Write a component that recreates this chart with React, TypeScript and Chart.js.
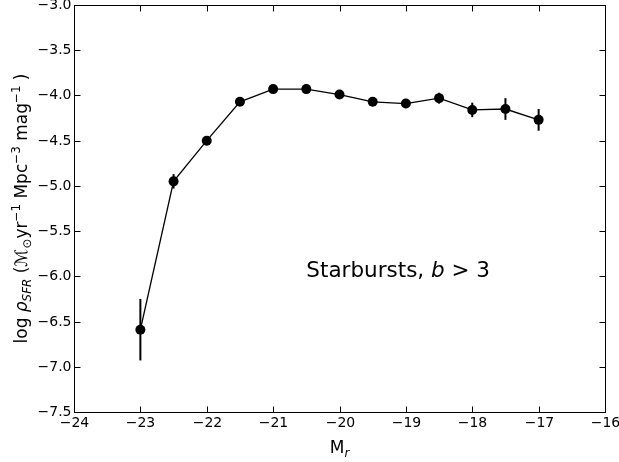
import React, { useEffect, useRef } from "react";
import { Chart, registerables } from "chart.js";

Chart.register(...registerables);

const magnitudes = [-23, -22.5, -22, -21.5, -21, -20.5, -20, -19.5, -19, -18.5, -18, -17.5, -17];
const logRho = [-6.59, -4.95, -4.5, -4.07, -3.93, -3.93, -3.99, -4.07, -4.09, -4.03, -4.16, -4.15, -4.27];
const errors = [0.34, 0.08, 0.05, 0.03, 0.02, 0.02, 0.03, 0.03, 0.05, 0.06, 0.08, 0.12, 0.12];
const xRange = [-24, -16];
const yRange = [-7.5, -3.0];
const annotationText = "Starbursts, ";

const FONT = '"DejaVu Sans"';

type Seg = { t: string; it?: boolean; sub?: boolean; sup?: boolean; font?: string };

function segFont(s: Seg, size: number) {
  const sz = s.sub || s.sup ? size * 0.7 : size;
  return `${s.it ? "italic " : ""}${sz}px ${s.font || FONT}`;
}

function drawRich(ctx: CanvasRenderingContext2D, segs: Seg[], x: number, y: number, size: number, align: "center" | "left") {
  ctx.textBaseline = "alphabetic";
  ctx.textAlign = "left";
  let total = 0;
  const widths = segs.map((s) => {
    ctx.font = segFont(s, size);
    const w = ctx.measureText(s.t).width;
    total += w;
    return w;
  });
  let cx = align === "center" ? x - total / 2 : x;
  segs.forEach((s, i) => {
    ctx.font = segFont(s, size);
    const dy = s.sub ? size * 0.22 : s.sup ? -size * 0.42 : 0;
    ctx.fillText(s.t, cx, y + dy);
    cx += widths[i];
  });
}

const minus = (s: string) => s.replace("-", "\u2212");

const decorPlugin = {
  id: "decor",
  beforeDatasetsDraw(chart: any) {
    const ctx: CanvasRenderingContext2D = chart.ctx;
    const xs = chart.scales.x;
    const ys = chart.scales.y;
    ctx.save();
    ctx.strokeStyle = "#000";
    ctx.lineWidth = 2;
    magnitudes.forEach((m, i) => {
      const px = xs.getPixelForValue(m);
      const y1 = ys.getPixelForValue(logRho[i] - errors[i]);
      const y2 = ys.getPixelForValue(logRho[i] + errors[i]);
      ctx.beginPath();
      ctx.moveTo(px, y1);
      ctx.lineTo(px, y2);
      ctx.stroke();
    });
    ctx.restore();
  },
  afterDraw(chart: any) {
    const ctx: CanvasRenderingContext2D = chart.ctx;
    const a = chart.chartArea;
    const xs = chart.scales.x;
    const ys = chart.scales.y;
    ctx.save();
    ctx.strokeStyle = "#000";
    ctx.lineWidth = 1;
    const L = Math.round(a.left) + 0.5;
    const R = Math.round(a.right) + 0.5;
    const T = Math.round(a.top) + 0.5;
    const B = Math.round(a.bottom) + 0.5;
    ctx.strokeRect(L, T, R - L, B - T);
    const tl = 6;
    ctx.fillStyle = "#000";
    const tickFont = `14px ${FONT}`;
    xs.ticks.forEach((t: any) => {
      const px = Math.round(xs.getPixelForValue(t.value)) + 0.5;
      ctx.beginPath();
      ctx.moveTo(px, B);
      ctx.lineTo(px, B - tl);
      ctx.moveTo(px, T);
      ctx.lineTo(px, T + tl);
      ctx.stroke();
      ctx.textAlign = "center";
      ctx.textBaseline = "top";
      ctx.font = tickFont;
      ctx.fillText(minus(String(t.value)), px, B + 4);
    });
    ys.ticks.forEach((t: any) => {
      const py = Math.round(ys.getPixelForValue(t.value)) + 0.5;
      ctx.beginPath();
      ctx.moveTo(L, py);
      ctx.lineTo(L + tl, py);
      ctx.moveTo(R, py);
      ctx.lineTo(R - tl, py);
      ctx.stroke();
      ctx.textAlign = "right";
      ctx.textBaseline = "middle";
      ctx.font = tickFont;
      ctx.fillText(minus(t.value.toFixed(1)), L - 3, py);
    });
    // x title
    drawRich(ctx, [{ t: "M" }, { t: "r", it: true, sub: true }], (a.left + a.right) / 2, 453, 17, "center");
    // y title
    ctx.save();
    ctx.translate(27, (a.top + a.bottom) / 2);
    ctx.rotate(-Math.PI / 2);
    drawRich(
      ctx,
      [
        { t: "log " },
        { t: "\u03C1", it: true },
        { t: "SFR", it: true, sub: true },
        { t: " (" },
        { t: "\u2133", it: true },
        { t: "\u2299", sub: true },
        { t: "yr" },
        { t: "\u22121", sup: true },
        { t: " Mpc" },
        { t: "\u22123", sup: true },
        { t: " mag" },
        { t: "\u22121", sup: true },
        { t: " )" },
      ],
      0,
      0,
      17,
      "center"
    );
    ctx.restore();
    // annotation
    drawRich(
      ctx,
      [{ t: annotationText }, { t: "b", it: true }, { t: " > " }, { t: "3" }],
      xs.getPixelForValue(-20.5),
      277,
      21.5,
      "left"
    );
    ctx.restore();
  },
};

export default function App() {
  const ref = useRef<HTMLCanvasElement>(null);
  useEffect(() => {
    document.body.style.margin = "0";
    const chart = new Chart(ref.current!, {
      type: "scatter",
      data: {
        datasets: [
          {
            data: magnitudes.map((m, i) => ({ x: m, y: logRho[i] })),
            showLine: true,
            borderColor: "#000",
            borderWidth: 1.3,
            pointRadius: 5,
            pointHoverRadius: 5,
            pointBackgroundColor: "#000",
            pointBorderColor: "#000",
            pointBorderWidth: 0,
          },
        ],
      },
      options: {
        animation: false,
        responsive: false,
        events: [],
        layout: { padding: { left: 0, right: 14, top: 5, bottom: 0 } },
        plugins: { legend: { display: false }, tooltip: { enabled: false } },
        scales: {
          x: {
            type: "linear",
            min: xRange[0],
            max: xRange[1],
            ticks: { display: false, stepSize: 1 },
            grid: { display: false },
            border: { display: false },
            afterFit: (s: any) => {
              s.height = 50;
            },
          },
          y: {
            type: "linear",
            min: yRange[0],
            max: yRange[1],
            ticks: { display: false, stepSize: 0.5 },
            grid: { display: false },
            border: { display: false },
            afterFit: (s: any) => {
              s.width = 74;
            },
          },
        },
      },
      plugins: [decorPlugin],
    } as any);
    return () => chart.destroy();
  }, []);
  return (
    <div style={{ position: "absolute", left: 0, top: 0 }}>
      <canvas ref={ref} width={619} height={462} style={{ width: 619, height: 462, display: "block" }} />
    </div>
  );
}
